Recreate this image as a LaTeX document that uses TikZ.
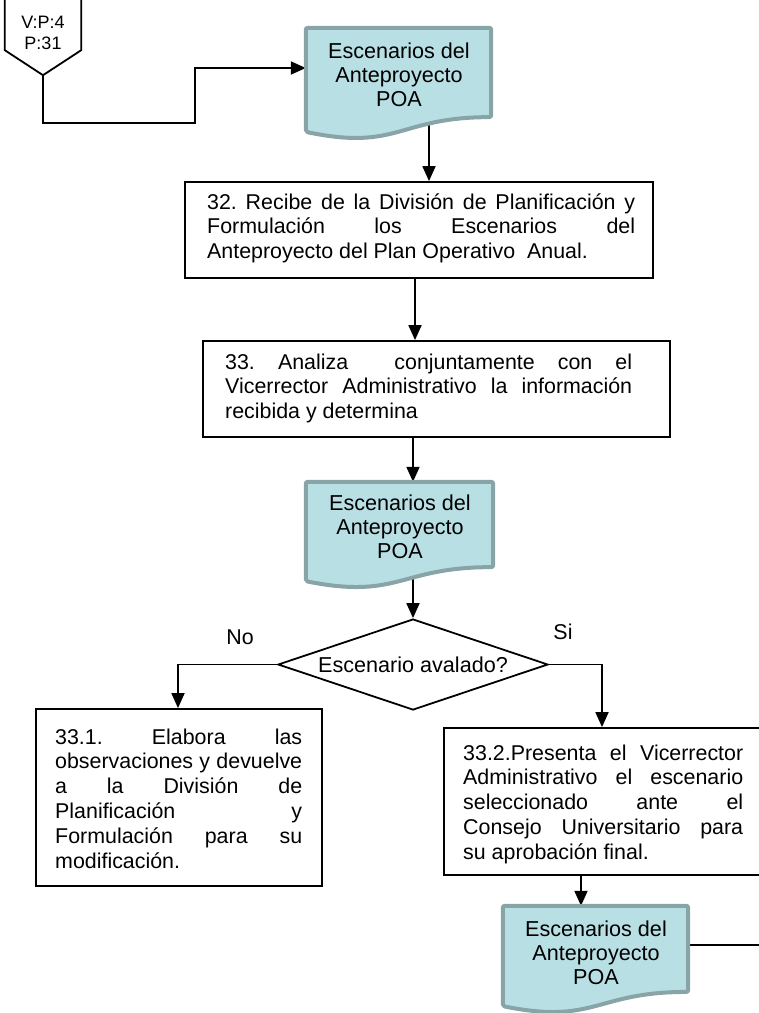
\documentclass[tikz,border=0pt]{standalone}
\usepackage{fontspec}
\setmainfont{Liberation Sans}
\usetikzlibrary{arrows.meta,calc,shapes.geometric}
\pgfdeclarelayer{background}
\pgfsetlayers{background,main}
\definecolor{docfill}{RGB}{184,223,227}
\definecolor{docedge}{RGB}{136,164,166}
\frenchspacing

% justified text block with fixed line breaks
\newcommand\boxtext[2]{\parbox[t]{#1}{\tolerance=10000\hbadness=10000\hfuzz=3pt\relax #2}}
% flowchart "document" outline drawn around a placeholder node
\newcommand\docshape[1]{%
  \draw[docoutline] (#1.north west) -- (#1.north east)
    -- ($(#1.north east)!0.802!(#1.south east)$)
    .. controls ($(#1.north)!0.802!(#1.south)$) and ($(#1.north)!1.107!(#1.south)$)
    .. ($(#1.north west)!0.934!(#1.south west)$) -- cycle;}

\tikzset{
  stepbox/.style={draw, line width=1.8pt, fill=white, inner sep=0pt, rectangle},
  docarea/.style={inner sep=0pt, rectangle},
  docoutline/.style={draw=docedge, fill=docfill, line width=4pt, rounded corners=2pt, line join=round},
  doctext/.style={font=\fontsize{21.6}{24}\selectfont, align=center, inner sep=0pt},
  body/.style={font=\fontsize{21.4}{24.8}\selectfont, inner sep=0pt, anchor=base west},
  decision/.style={diamond, draw, line width=1.8pt, fill=white, inner sep=0pt, aspect=3,
    font=\fontsize{21.6}{24}\selectfont},
  tag/.style={font=\fontsize{21.4}{24}\selectfont, inner sep=0pt},
  arr/.style={line width=1.8pt, -{Triangle[length=15pt,width=13pt]}},
  link/.style={line width=1.8pt},
}

\begin{document}
\begin{tikzpicture}[x=1pt,y=-1pt]
\useasboundingbox (0,0) rectangle (759,1013);
\clip (0,0) rectangle (759,1013);

% off-page connector
\node[inner sep=0pt, minimum width=76pt, minimum height=80pt] (conn) at (43,35) {};
\draw[link, line join=miter] (conn.north west) -- (conn.north east)
  -- ($(conn.south east)+(0,-25)$) -- (conn.south) -- ($(conn.south west)+(0,-25)$) -- cycle;
\node[inner sep=0pt, align=center, font=\fontsize{18}{21}\selectfont] (conntext) at (43,32.5) {V:P:4\\P:31};

% documents
\node[docarea, minimum width=185pt, minimum height=111pt] (d1) at (398.5,83.5) {};
\docshape{d1}
\node[doctext] (d1t) at (399,75) {Escenarios del\\Anteproyecto\\POA};

\node[docarea, minimum width=187pt, minimum height=106pt] (d2) at (399.5,535) {};
\docshape{d2}
\node[doctext] (d2t) at (400,527) {Escenarios del\\Anteproyecto\\POA};

\node[docarea, minimum width=185pt, minimum height=107pt] (d3) at (595.5,959.5) {};
\docshape{d3}
\node[doctext] (d3t) at (596,953) {Escenarios del\\Anteproyecto\\POA};

% process steps
\node[stepbox, minimum width=468pt, minimum height=96pt] (b32) at (419,230) {};
\node[body] (b32t) at (207,209) {\boxtext{428pt}{32. Recibe de la División de Planificación y\linebreak
  Formulación los Escenarios del\linebreak
  Anteproyecto del Plan Operativo\ \ Anual.}};

\node[stepbox, minimum width=467pt, minimum height=96pt] (b33) at (436.5,389) {};
\node[body] (b33t) at (225,369) {\boxtext{407pt}{33. Analiza\ \ conjuntamente con el\linebreak
  Vicerrector Administrativo la información\linebreak
  recibida y determina}};

\node[stepbox, minimum width=286pt, minimum height=177pt] (b331) at (179,797.5) {};
\node[body] (b331t) at (55,744) {\boxtext{247pt}{33.1. Elabora las\linebreak
  observaciones y devuelve\linebreak
  a la División de\linebreak
  Planificación y\linebreak
  Formulación para su\linebreak
  modificación.}};

\node[stepbox, minimum width=331pt, minimum height=147pt] (b332) at (609.5,801.5) {};
\node[body] (b332t) at (463,760) {\boxtext{280pt}{33.2.Presenta el Vicerrector\linebreak
  Administrativo el escenario\linebreak
  seleccionado ante el\linebreak
  Consejo Universitario para\linebreak
  su aprobación final.}};

% decision
\node[decision, minimum width=270pt, minimum height=91pt] (dia) at (413,664.5) {Escenario avalado?};
\node[tag] (no) at (240,637) {No};
\node[tag] (si) at (563,632) {Si};

\coordinate (exit) at (775,945);

% connectors
\begin{pgfonlayer}{background}
\draw[arr, line join=miter] (conn.south) |- (195,123) |- (d1.west |- 0,68);
\draw[arr] (d1.center -| 429,0) -- (b32.north -| 429,0);
\draw[arr] (b32.south -| 415,0) -- (b33.north -| 415,0);
\draw[arr] (b33.south -| 413,0) -- (d2.north -| 413,0);
\draw[arr] (d2.center -| 413,0) -- (dia.north);
\draw[arr, line join=miter] (dia.west) -| (b331.north -| 178,0);
\draw[arr, line join=miter] (dia.east) -| (b332.north -| 602,0);
\draw[arr] (b332.south -| 581,0) -- (d3.north -| 581,0);
\draw[link] (d3.center |- 0,945) -- (exit);
\end{pgfonlayer}
\end{tikzpicture}
\end{document}
